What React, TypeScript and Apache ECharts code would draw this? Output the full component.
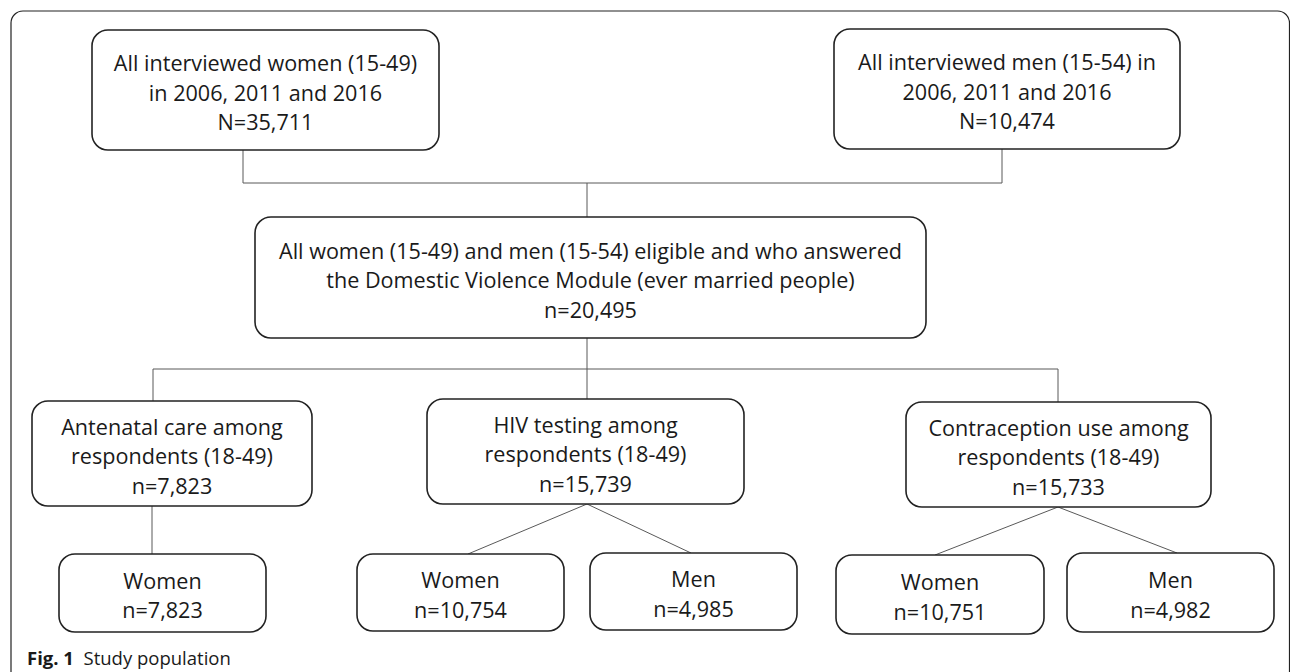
import React, { useEffect, useRef } from "react";
import * as echarts from "echarts";

// ---- content (flowchart data) ----
const boxIds = ["allWomen", "allMen", "eligible", "antenatal", "hiv", "contra", "antWomen", "hivWomen", "hivMen", "conWomen", "conMen"];
const boxLines: string[][] = [
  ["All interviewed women (15-49)", "in 2006, 2011 and 2016"],
  ["All interviewed men (15-54) in", "2006, 2011 and 2016"],
  ["All women (15-49) and men (15-54) eligible and who answered", "the Domestic Violence Module (ever married people)"],
  ["Antenatal care among", "respondents (18-49)"],
  ["HIV testing among", "respondents (18-49)"],
  ["Contraception use among", "respondents (18-49)"],
  ["Women"],
  ["Women"],
  ["Men"],
  ["Women"],
  ["Men"],
];
const countLabels = ["N=35,711", "N=10,474", "n=20,495", "n=7,823", "n=15,739", "n=15,733", "n=7,823", "n=10,754", "n=4,985", "n=10,751", "n=4,982"];
const captionBold = "Fig. 1";
const captionText = "Study population";

// ---- layout (positions and sizes) ----
const boxRects: number[][] = [
  [92, 30, 347, 120],
  [834, 29, 346, 120],
  [255, 217, 671, 121],
  [32, 401, 280, 105],
  [427, 399, 317, 105],
  [906, 402, 305, 105],
  [59, 554, 207, 78],
  [357, 554, 207, 77],
  [590, 553, 207, 77],
  [836, 555, 208, 79],
  [1067, 553, 207, 79],
];
const connectors: number[][][] = [
  [[243, 150], [243, 183], [1002, 183], [1002, 149]],
  [[587, 183], [587, 217]],
  [[587, 338], [587, 399]],
  [[153, 401], [153, 369], [1058, 369], [1058, 402]],
  [[152, 506], [152, 554]],
  [[468, 554], [587, 504], [691, 553]],
  [[935, 555], [1058, 507], [1177, 553]],
];

const FONT = '"Open Sans", "Noto Sans", sans-serif';
const TEXT_COLOR = "#1a1a1a";

export default function App() {
  const ref = useRef<HTMLDivElement>(null);
  useEffect(() => {
    document.body.style.margin = "0";
    if (!ref.current) return;
    const chart = echarts.init(ref.current, undefined, { renderer: "svg" });
    const elements: any[] = [];
    // outer frame (open at bottom)
    elements.push({
      type: "rect",
      shape: { x: 11, y: 11, width: 1278.5, height: 720, r: 12 },
      style: { fill: "none", stroke: "#222", lineWidth: 1.2 },
      silent: true,
    });
    connectors.forEach((pts) => {
      elements.push({
        type: "polyline",
        shape: { points: pts },
        style: { fill: "none", stroke: "#595959", lineWidth: 1 },
        silent: true,
      });
    });
    boxIds.forEach((id, i) => {
      const [x, y, w, h] = boxRects[i];
      elements.push({
        type: "rect",
        id: id + "_rect",
        shape: { x, y, width: w, height: h, r: 16 },
        style: { fill: "#fff", stroke: "#222", lineWidth: 1.6 },
        silent: true,
      });
      const text = [...boxLines[i], countLabels[i]].join("\n");
      elements.push({
        type: "text",
        id: id + "_text",
        x: x + w / 2,
        y: y + h / 2 + 2,
        style: {
          text,
          fill: TEXT_COLOR,
          fontSize: 21.6,
          fontFamily: FONT,
          align: "center",
          verticalAlign: "middle",
          textAlign: "center",
          textVerticalAlign: "middle",
          lineHeight: 29.5,
        },
        silent: true,
      });
    });
    elements.push({
      type: "text",
      x: 27,
      y: 657,
      style: {
        text: `{b|${captionBold}}  ${captionText}`,
        fill: TEXT_COLOR,
        fontSize: 18.5,
        fontFamily: FONT,
        verticalAlign: "middle",
        textVerticalAlign: "middle",
        rich: {
          b: { fontWeight: "bold", fontSize: 18.5, fontFamily: FONT, fill: TEXT_COLOR },
        },
      },
      silent: true,
    });
    chart.setOption({
      animation: false,
      backgroundColor: "#fff",
      graphic: { elements },
    });
    return () => chart.dispose();
  }, []);
  return <div ref={ref} style={{ width: 1290, height: 672 }} />;
}
